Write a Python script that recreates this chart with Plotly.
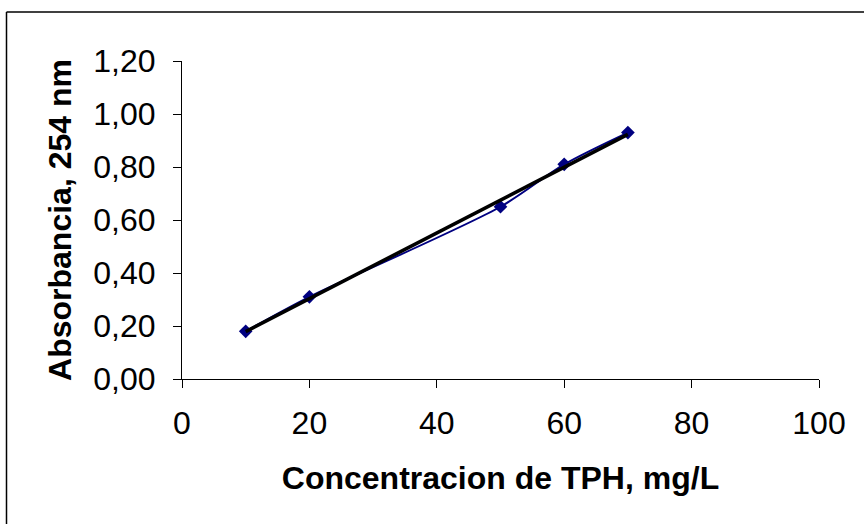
import numpy as np
import plotly.graph_objects as go

# Data
concentracion = [10, 20, 50, 60, 70]
absorbancia = [0.18, 0.31, 0.65, 0.81, 0.93]
x_ticks = [0, 20, 40, 60, 80, 100]
y_ticks = [0.0, 0.2, 0.4, 0.6, 0.8, 1.0, 1.2]

# Linear trendline (least squares, like Excel)
slope, intercept = np.polyfit(concentracion, absorbancia, 1)
trend_x = [min(concentracion), max(concentracion)]
trend_y = [slope * v + intercept for v in trend_x]

FONT = "Liberation Sans, Arial, sans-serif"

fig = go.Figure()
fig.add_trace(go.Scatter(
    x=concentracion, y=absorbancia, mode="lines+markers",
    line=dict(color="#000080", width=2, shape="spline", smoothing=0.8),
    marker=dict(symbol="diamond", size=10.5, color="#000080"),
    showlegend=False, hoverinfo="x+y",
))
fig.add_trace(go.Scatter(
    x=trend_x, y=trend_y, mode="lines",
    line=dict(color="black", width=3.6),
    showlegend=False, hoverinfo="skip",
))

L, R, T, B = 182, 45, 61, 145
W, H = 864, 524
pw, ph = W - L - R, H - T - B

fig.update_layout(
    width=W, height=H,
    margin=dict(l=L, r=R, t=T, b=B, pad=0),
    paper_bgcolor="white", plot_bgcolor="white",
    separators=",.",
    font=dict(family=FONT, color="black", size=32),
    xaxis=dict(
        range=[0, 100], tickvals=x_ticks, ticktext=[str(v) for v in x_ticks],
        showgrid=False, zeroline=False, showline=True, linecolor="black", linewidth=1,
        ticks="outside", ticklen=8, tickcolor="black", tickwidth=1,
        ticklabelstandoff=8,
        tickfont=dict(family=FONT, size=32, color="black"),
        title=dict(text="<b>Concentracion de TPH, mg/L</b>",
                   font=dict(family=FONT, size=32, color="black"), standoff=26),
    ),
    yaxis=dict(
        range=[0, 1.2], tickvals=y_ticks, tickformat=".2f",
        showgrid=False, zeroline=False, showline=True, linecolor="black", linewidth=1,
        ticks="outside", ticklen=8, tickcolor="black", tickwidth=1,
        ticklabelstandoff=11,
        tickfont=dict(family=FONT, size=32, color="black"),
        title=dict(text="<b>Absorbancia, 254 nm</b>",
                   font=dict(family=FONT, size=32, color="black"), standoff=12),
    ),
    shapes=[
        dict(type="line", xref="paper", yref="paper",
             x0=(6.5 - L) / pw, x1=1.2, y0=(H - B - 12) / ph, y1=(H - B - 12) / ph,
             line=dict(color="black", width=1.5)),
        dict(type="line", xref="paper", yref="paper",
             x0=(6.5 - L) / pw, x1=(6.5 - L) / pw, y0=-1, y1=(H - B - 12) / ph,
             line=dict(color="black", width=1.5)),
    ],
)

fig.write_html("out.html")
